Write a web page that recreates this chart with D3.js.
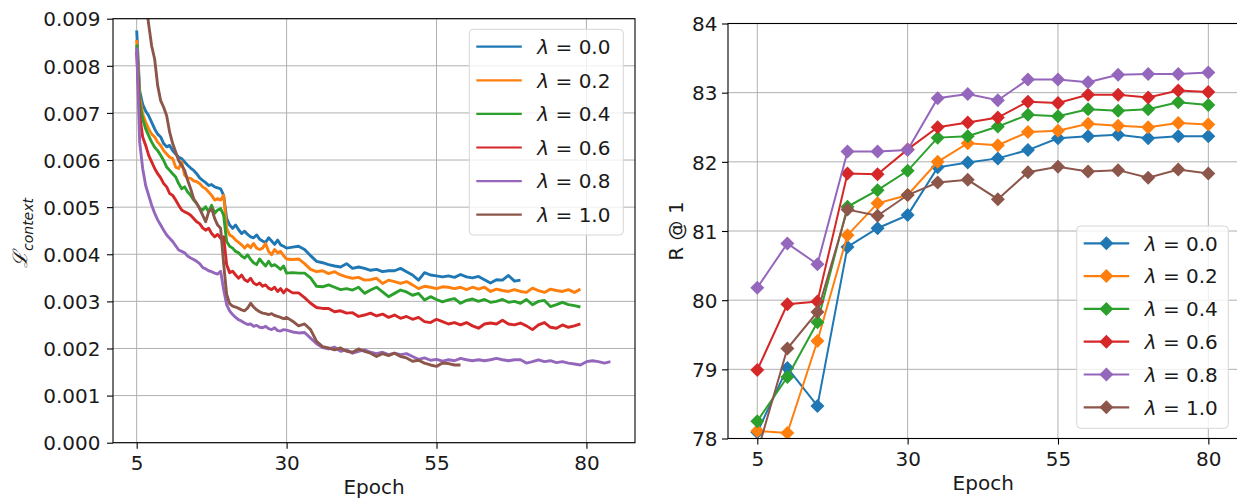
<!DOCTYPE html>
<html><head><meta charset="utf-8">
<script src="https://cdn.jsdelivr.net/npm/d3@7"></script>
<style>
body{margin:0;background:#fff}
svg{display:block}
text{font-family:"DejaVu Sans",sans-serif;fill:#1a1a1a}
</style>
</head><body>
<svg id="c" width="1237" height="502"></svg>
<script>
// ---------- shared ----------
const lambdaLabels = ["0.0","0.2","0.4","0.6","0.8","1.0"];
const colors = ["#1f77b4","#ff7f0e","#2ca02c","#d62728","#9467bd","#8c564b"];
const epochTicks = [5,30,55,80];

// ---------- left chart: context loss (values in units of 1e-3) ----------
const lossEpochs = [5,5.5,6,6.5,7,7.5,8,8.5,9,9.5,10,10.5,11,11.5,12,12.5,13,13.5,14,14.5,15,15.5,16,16.5,17,17.5,18,18.5,19,19.5,20,20.5,21,21.5,22,22.5,23,23.5,24,24.5,25,25.5,26,26.5,27,27.5,28,28.5,29,29.5,
30,31,32,33,34,35,36,37,38,39,40,41,42,43,44,45,46,47,48,49,50,51,52,53,54,55,56,57,58,59,60,61,62,63,64,65,66,67,68,69,70,71,72,73,74,75,76,77,78,79,80,81,82,83,84];
const lossL00 = [8.75,7.47,7.18,7.04,6.94,6.80,6.66,6.55,6.49,6.35,6.28,6.31,6.20,6.13,6.06,6.03,5.96,5.89,5.83,5.78,5.71,5.62,5.57,5.52,5.46,5.48,5.43,5.41,5.39,5.25,4.76,4.62,4.55,4.62,4.52,4.44,4.49,4.42,4.37,4.35,4.41,4.32,4.28,4.25,4.35,4.28,4.21,4.30,4.20,4.17,
4.13,4.15,4.17,4.10,3.97,3.85,3.82,3.78,3.75,3.73,3.80,3.70,3.73,3.70,3.66,3.68,3.63,3.65,3.65,3.70,3.63,3.56,3.45,3.61,3.56,3.54,3.52,3.54,3.51,3.57,3.52,3.50,3.53,3.46,3.39,3.46,3.45,3.55,3.43,3.45];
const lossL02 = [8.55,7.33,6.98,6.80,6.66,6.55,6.49,6.38,6.31,6.20,6.13,6.06,6.03,5.85,5.82,5.96,5.68,5.62,5.61,5.56,5.54,5.50,5.43,5.39,5.32,5.25,5.15,5.18,5.15,5.25,4.55,4.41,4.37,4.30,4.25,4.20,4.13,4.20,4.14,4.23,4.13,4.10,4.13,4.23,4.06,3.99,4.10,4.03,4.06,3.97,
3.90,3.89,3.90,3.80,3.68,3.63,3.65,3.59,3.63,3.56,3.52,3.49,3.51,3.45,3.46,3.49,3.38,3.45,3.42,3.38,3.42,3.35,3.27,3.32,3.30,3.27,3.31,3.30,3.27,3.30,3.25,3.30,3.26,3.30,3.21,3.26,3.23,3.21,3.25,3.21,3.19,3.28,3.23,3.19,3.26,3.23,3.21,3.25,3.19,3.26];
const lossL04 = [8.45,7.23,6.87,6.66,6.52,6.38,6.27,6.20,6.10,5.99,5.85,5.78,5.71,5.64,5.50,5.39,5.43,5.32,5.25,5.15,5.08,4.97,4.94,5.01,4.90,5.04,4.87,4.94,4.97,4.83,4.27,4.17,4.13,4.06,4.03,3.96,3.92,3.99,3.89,3.82,3.78,3.90,3.82,3.75,3.85,3.75,3.78,3.73,3.68,3.75,
3.60,3.61,3.60,3.60,3.50,3.32,3.31,3.35,3.30,3.25,3.27,3.24,3.30,3.17,3.24,3.30,3.20,3.10,3.17,3.24,3.20,3.13,3.17,3.03,3.10,3.04,2.99,3.03,3.06,2.96,3.02,3.05,3.00,3.04,2.98,3.00,3.04,2.98,3.00,2.96,3.04,2.93,3.00,3.02,2.89,2.93,2.98,2.93,2.91,2.88];
const lossL06 = [8.30,6.94,6.49,6.31,6.10,5.96,5.82,5.71,5.62,5.50,5.43,5.29,5.25,5.15,5.04,4.94,4.90,4.87,4.83,4.76,4.69,4.65,4.56,4.51,4.55,4.44,4.37,4.42,4.34,4.37,3.78,3.61,3.64,3.56,3.49,3.56,3.46,3.42,3.49,3.39,3.35,3.39,3.32,3.35,3.28,3.25,3.30,3.21,3.27,3.18,
3.26,3.18,3.18,3.08,2.96,2.87,2.85,2.85,2.78,2.80,2.75,2.76,2.68,2.71,2.75,2.69,2.73,2.66,2.71,2.64,2.68,2.62,2.66,2.57,2.55,2.62,2.57,2.52,2.55,2.50,2.55,2.48,2.43,2.52,2.54,2.52,2.60,2.52,2.50,2.54,2.48,2.40,2.50,2.55,2.45,2.43,2.50,2.45,2.48,2.52];
const lossL08 = [8.39,6.38,5.82,5.46,5.25,5.04,4.87,4.73,4.62,4.51,4.41,4.34,4.27,4.18,4.09,4.06,4.03,3.96,3.92,3.89,3.85,3.80,3.72,3.69,3.65,3.63,3.60,3.58,3.64,3.25,2.93,2.80,2.72,2.66,2.61,2.58,2.54,2.51,2.52,2.47,2.49,2.45,2.44,2.47,2.42,2.40,2.44,2.38,2.37,2.40,
2.39,2.35,2.33,2.34,2.22,2.10,2.02,1.99,2.03,1.94,1.97,1.90,1.94,1.97,1.92,1.89,1.92,1.87,1.90,1.87,1.89,1.83,1.77,1.80,1.75,1.77,1.73,1.76,1.74,1.79,1.76,1.74,1.76,1.74,1.76,1.79,1.76,1.74,1.76,1.76,1.69,1.72,1.76,1.72,1.74,1.70,1.72,1.69,1.67,1.65,1.72,1.74,1.72,1.69,1.72];
const lossL10 = [12.5,11.0,10.0,9.40,8.88,8.42,8.14,7.58,7.26,7.12,6.94,6.59,6.35,6.17,5.99,5.89,5.78,5.57,5.39,5.18,5.08,4.97,4.83,4.69,4.90,4.97,4.76,4.62,4.55,3.80,3.15,2.95,2.90,2.88,2.85,2.82,2.80,2.86,2.96,2.88,2.82,2.78,2.75,2.74,2.72,2.74,2.70,2.68,2.66,2.63,
2.66,2.58,2.48,2.52,2.40,2.15,2.04,2.01,1.97,2.01,1.94,1.92,1.99,1.94,1.90,1.83,1.89,1.85,1.90,1.83,1.80,1.73,1.75,1.69,1.65,1.62,1.69,1.68,1.65,1.65];
const lossTicks = [0,0.001,0.002,0.003,0.004,0.005,0.006,0.007,0.008,0.009];

// ---------- right chart: R@1 ----------
const rEpochs = [5,10,15,20,25,30,35,40,45,50,55,60,65,70,75,80];
const r1L00 = [78.09,79.02,78.47,80.77,81.04,81.23,81.92,81.99,82.05,82.17,82.34,82.37,82.39,82.34,82.37,82.37];
const r1L02 = [78.11,78.08,79.41,80.94,81.40,81.52,82.00,82.27,82.24,82.43,82.45,82.55,82.52,82.50,82.56,82.54];
const r1L04 = [78.25,78.89,79.68,81.35,81.59,81.87,82.35,82.37,82.51,82.68,82.66,82.76,82.74,82.76,82.86,82.82];
const r1L06 = [78.99,79.94,79.98,81.83,81.82,82.18,82.50,82.57,82.64,82.87,82.85,82.97,82.97,82.93,83.03,83.01];
const r1L08 = [80.18,80.82,80.52,82.15,82.15,82.17,82.92,82.98,82.89,83.19,83.19,83.15,83.26,83.27,83.27,83.29];
const r1L10 = [77.80,79.30,79.83,81.31,81.22,81.52,81.70,81.74,81.46,81.85,81.93,81.86,81.88,81.77,81.89,81.83];
const r1Ticks = [78,79,80,81,82,83,84];

const lossSeries = [lossL00,lossL02,lossL04,lossL06,lossL08,lossL10];
const r1Series = [r1L00,r1L02,r1L04,r1L06,r1L08,r1L10];

// ---------- drawing ----------
const svg = d3.select("#c");
const FS = 20;

function frame(id, x, y, xTicks, yTicks) {
  const [x0,x1] = x.range(), [y0,y1] = y.range();
  const g = svg.append("g");
  g.append("clipPath").attr("id", id).append("rect")
    .attr("x", x0).attr("y", y1).attr("width", x1-x0).attr("height", y0-y1);
  g.selectAll(".gx").data(xTicks).join("line")
    .attr("x1", d=>x(d)).attr("x2", d=>x(d)).attr("y1", y0).attr("y2", y1)
    .attr("stroke", "#b0b0b0").attr("stroke-width", 1);
  g.selectAll(".gy").data(yTicks).join("line")
    .attr("x1", x0).attr("x2", x1).attr("y1", d=>y(d)).attr("y2", d=>y(d))
    .attr("stroke", "#b0b0b0").attr("stroke-width", 1);
  return g;
}

function axesOn(g, x, y, xTicks, yTicks, fmt, yLabelEnd) {
  const [x0,x1] = x.range(), [y0,y1] = y.range();
  const ax = g.append("g").attr("transform", `translate(0,${y0})`)
    .call(d3.axisBottom(x).tickValues(xTicks).tickSize(6).tickPadding(8).tickFormat(d3.format("d")));
  ax.select(".domain").remove();
  ax.selectAll("line").attr("stroke", "#000").attr("stroke-width", 1.1);
  ax.selectAll("text").attr("font-size", FS).attr("fill", "#1a1a1a")
    .attr("font-family", "DejaVu Sans").attr("dy", null).attr("y", 27.5);
  const ay = g.append("g").attr("transform", `translate(${x0},0)`)
    .call(d3.axisLeft(y).tickValues(yTicks).tickSize(6).tickPadding(x0 - yLabelEnd - 6).tickFormat(fmt));
  ay.select(".domain").remove();
  ay.selectAll("line").attr("stroke", "#000").attr("stroke-width", 1.1);
  ay.selectAll("text").attr("font-size", FS).attr("fill", "#1a1a1a")
    .attr("font-family", "DejaVu Sans").attr("dy", "0.36em");
  g.append("rect").attr("x", x0).attr("y", y1).attr("width", x1-x0).attr("height", y0-y1)
    .attr("fill", "none").attr("stroke", "#000").attr("stroke-width", 1.1);
  g.append("text").attr("x", (x0+x1)/2).attr("y", y0 + 51.5)
    .attr("text-anchor", "middle").attr("font-size", FS).text("Epoch");
}

function diamond(r) { return `M0,${-r}L${r},0L0,${r}L${-r},0Z`; }

function legend(g, bx, by, bw, bh, itemY0, itemDy, withMarker) {
  const lg = g.append("g");
  lg.append("rect").attr("x", bx).attr("y", by).attr("width", bw).attr("height", bh)
    .attr("rx", 4).attr("fill", "#fff").attr("fill-opacity", 0.8)
    .attr("stroke", "#d6d6d6").attr("stroke-width", 1);
  const items = lg.selectAll(".it").data(lambdaLabels).join("g")
    .attr("transform", (d,i)=>`translate(${bx+7},${itemY0 + i*itemDy})`);
  items.append("line").attr("x1", 0).attr("x2", 45.5).attr("y1", 0).attr("y2", 0)
    .attr("stroke", (d,i)=>colors[i]).attr("stroke-width", 2.2);
  if (withMarker) items.append("path").attr("d", diamond(7)).attr("transform", "translate(22.7,0)")
    .attr("fill", (d,i)=>colors[i]);
  const t = items.append("text").attr("x", 61).attr("y", 7.3).attr("font-size", FS);
  t.append("tspan").attr("font-style", "italic").text("λ");
  t.append("tspan").text(" = ");
  t.append("tspan").text(d=>d);
}

// ----- left -----
const xL = d3.scaleLinear().domain([1.05, 88.1]).range([113, 635]);
const yL = d3.scaleLinear().domain([0, 0.009]).range([442.7, 18.7]);
const gL = frame("clipL", xL, yL, epochTicks, lossTicks);
const lineL = d3.line().x((d,i)=>xL(lossEpochs[i])).y(d=>yL(d*1e-3));
gL.append("g").attr("clip-path", "url(#clipL)").selectAll("path").data(lossSeries).join("path")
  .attr("d", d=>lineL(d)).attr("fill", "none").attr("stroke", (d,i)=>colors[i])
  .attr("stroke-width", 2.9).attr("stroke-linejoin", "round");
axesOn(gL, xL, yL, epochTicks, lossTicks, d3.format(".3f"), 100.5);
const yl = gL.append("text").attr("transform", "translate(27,233) rotate(-90)")
  .attr("text-anchor", "middle").attr("font-size", FS);
yl.append("tspan").attr("font-family", "DejaVu Serif").attr("font-style", "italic").text("ℒ");
yl.append("tspan").attr("font-size", 14).attr("font-style", "italic").attr("dy", 6).text("context");
legend(gL, 469.3, 29.3, 154, 205.7, 46.7, 33.6, false);

// ----- right -----
const xR = d3.scaleLinear().domain([0.13, 85]).range([728, 1238.4]);
const yR = d3.scaleLinear().domain([78, 84]).range([438.5, 23.5]);
const gR = frame("clipR", xR, yR, epochTicks, r1Ticks);
const lineR = d3.line().x((d,i)=>xR(rEpochs[i])).y(d=>yR(d));
const sR = gR.append("g").attr("clip-path", "url(#clipR)").selectAll("g").data(r1Series).join("g");
sR.append("path").attr("d", d=>lineR(d)).attr("fill", "none").attr("stroke", (d,i)=>colors[i])
  .attr("stroke-width", 2);
sR.each(function(d,i){
  d3.select(this).selectAll("path.m").data(d).join("path").attr("class", "m")
    .attr("d", diamond(7))
    .attr("transform", (v,j)=>`translate(${xR(rEpochs[j])},${yR(v)})`)
    .attr("fill", colors[i]);
});
axesOn(gR, xR, yR, epochTicks, r1Ticks, d3.format("d"), 717.5);
gR.append("text").attr("transform", "translate(683,231) rotate(-90)")
  .attr("text-anchor", "middle").attr("font-size", FS).text("R @ 1");
legend(gR, 1076.7, 226, 151.6, 202.3, 243.3, 32.8, true);
</script>
</body></html>
